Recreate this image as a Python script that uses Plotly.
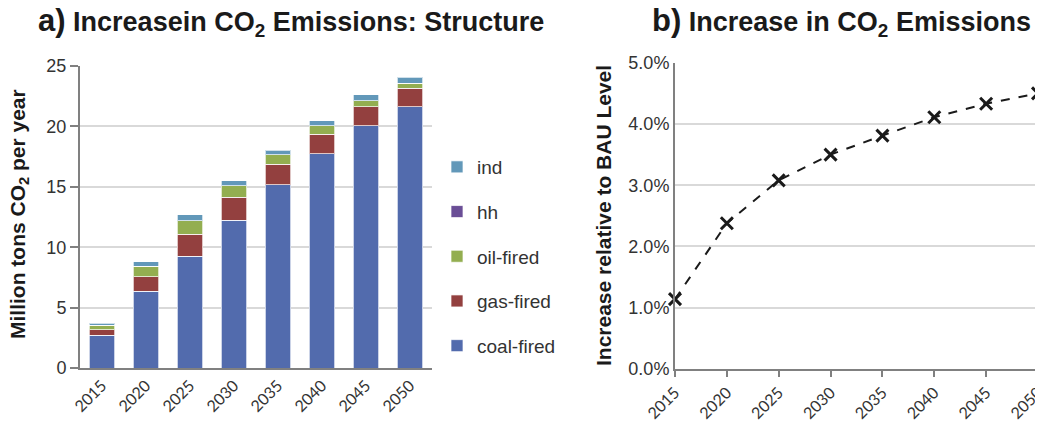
import plotly.graph_objects as go

years = ["2015", "2020", "2025", "2030", "2035", "2040", "2045", "2050"]
coal = [2.72, 6.35, 9.26, 12.25, 15.16, 17.74, 20.07, 21.62]
gas = [0.44, 1.19, 1.80, 1.89, 1.69, 1.63, 1.55, 1.55]
oil = [0.39, 0.89, 1.11, 0.94, 0.80, 0.70, 0.52, 0.42]
hh = [0.0, 0.0, 0.0, 0.0, 0.0, 0.0, 0.0, 0.0]
ind = [0.16, 0.36, 0.50, 0.41, 0.39, 0.38, 0.48, 0.49]
increase_pct = [1.14, 2.38, 3.08, 3.50, 3.81, 4.11, 4.33, 4.50]

series = [
    ("coal-fired", coal, "#526BAD", 5),
    ("gas-fired", gas, "#93403F", 4),
    ("oil-fired", oil, "#93AE50", 3),
    ("hh", hh, "#6A4E96", 2),
    ("ind", ind, "#6298B9", 1),
]

# the page has an 8px body margin; positions below are given in page pixels
OFF = 8
W, H = 1043 - OFF, 422 - OFF
def px(x): return (x - OFF) / W
def py(y): return 1 - (y - OFF) / H

fig = go.Figure()
for name, vals, col, rank in series:
    fig.add_trace(go.Bar(
        x=years, y=vals, name=name, legendgroup=name, legendrank=rank,
        marker=dict(color=col, line=dict(color="rgba(255,255,255,0.7)", width=1)),
        xaxis="x", yaxis="y",
    ))

fig.add_trace(go.Scatter(
    x=years, y=increase_pct, mode="lines+markers", showlegend=False,
    line=dict(color="#1a1a1a", width=2, dash="dash"),
    marker=dict(symbol="x-thin", size=12, line=dict(color="#1a1a1a", width=3)),
    cliponaxis=False, xaxis="x2", yaxis="y2",
))

tickfont_y = dict(family="Liberation Sans, Arial, sans-serif", size=18, color="#333333")
tickfont_x = dict(family="Lato, Carlito, sans-serif", size=16, color="#333333")
axcol = "#808080"
gridcol = "#d9d9d9"

fig.update_layout(
    width=W, height=H,
    margin=dict(l=0, r=0, t=0, b=0, autoexpand=False),
    paper_bgcolor="white", plot_bgcolor="white",
    barmode="stack", bargap=0.43,
    showlegend=True,
    legend=dict(
        x=px(437), y=py(148), xanchor="left", yanchor="top",
        traceorder="grouped", tracegroupgap=17,
        font=dict(family="Liberation Sans, Arial, sans-serif", size=19, color="#333333"),
        itemwidth=30, bgcolor="rgba(0,0,0,0)",
    ),
    xaxis=dict(
        domain=[px(80), px(432)], anchor="y", automargin=False,
        tickangle=-45, tickfont=tickfont_x,
        showline=True, linecolor=axcol, linewidth=2,
        ticks="", showgrid=False,
    ),
    yaxis=dict(
        domain=[py(368), py(66)], anchor="x", automargin=False,
        range=[0, 25], dtick=5, tickfont=tickfont_y,
        showline=True, linecolor=axcol, linewidth=2,
        ticks="outside", ticklen=8, tickcolor=axcol, tickwidth=1.5,
        showgrid=True, gridcolor=gridcol, gridwidth=1.5,
        zeroline=False,
    ),
    xaxis2=dict(
        domain=[px(675), px(1038)], anchor="y2", automargin=False,
        type="category", range=[0, 7],
        tickangle=-45, tickfont=tickfont_x,
        showline=True, linecolor=axcol, linewidth=2,
        ticks="outside", ticklen=6, tickcolor=axcol, tickwidth=1.5,
        showgrid=False,
    ),
    yaxis2=dict(
        domain=[py(369), py(62.7)], anchor="x2", automargin=False,
        range=[0, 5], dtick=1, tickformat=".1f", ticksuffix="%",
        tickfont=tickfont_y,
        showline=True, linecolor=axcol, linewidth=2,
        ticks="", showgrid=True, gridcolor=gridcol, gridwidth=1.5,
        zeroline=False,
    ),
)

title_font = dict(family="Liberation Sans, Arial, sans-serif", size=27, color="#1a1a1a")
fig.add_annotation(
    text="<b><span style='font-size:31px'>a)</span> Increasein CO<sub>2</sub> Emissions: Structure</b>",
    x=px(36), y=py(22), xref="paper", yref="paper", xanchor="left", yanchor="middle",
    showarrow=False, font=title_font,
)
fig.add_annotation(
    text="<b><span style='font-size:31px'>b)</span> Increase in CO<sub>2</sub> Emissions</b>",
    x=px(650), y=py(22), xref="paper", yref="paper", xanchor="left", yanchor="middle",
    showarrow=False, font=title_font,
)

axis_title_font = dict(family="Liberation Sans, Arial, sans-serif", size=21, color="#1a1a1a")
fig.add_annotation(
    text="<b>Million tons CO<sub>2</sub> per year</b>",
    x=px(19), y=py(214), xref="paper", yref="paper", xanchor="center", yanchor="middle",
    textangle=-90, showarrow=False, font=axis_title_font,
)
fig.add_annotation(
    text="<b>Increase relative to BAU Level</b>",
    x=px(603), y=py(216), xref="paper", yref="paper", xanchor="center", yanchor="middle",
    textangle=-90, showarrow=False, font=axis_title_font,
)

fig.write_html("out.html")
